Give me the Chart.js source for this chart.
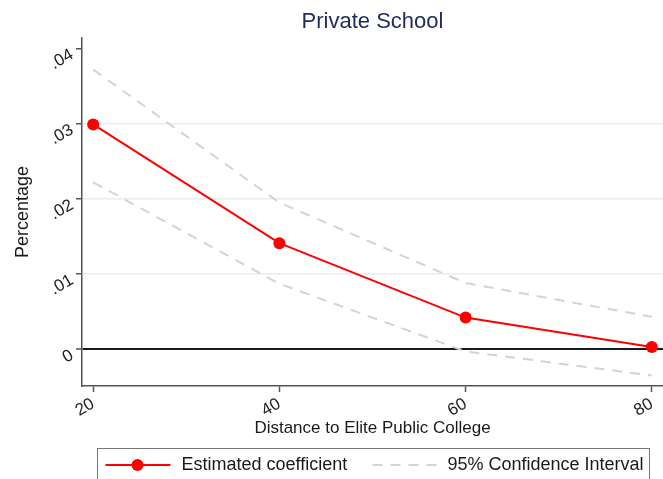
<!DOCTYPE html>
<html lang="en">
<head>
    <meta charset="UTF-8">
    <title>Private School</title>
    <script src="https://cdn.jsdelivr.net/npm/chart.js"></script>
    <style>
        html, body {
            margin: 0;
            padding: 0;
            overflow: hidden;
            background-color: #fff;
        }
        canvas {
            display: block;
        }
    </style>
</head>
<body>
    <!-- a few px wider than the window: the plot is cropped at the right edge like the original -->
    <canvas id="coefChart" width="669" height="479"></canvas>

    <script>
        // values
        const distance = [20, 40, 60, 80];
        const coefficient = [0.0299, 0.0141, 0.0042, 0.0003];
        const ciUpper = [0.0372, 0.0195, 0.0088, 0.0043];
        const ciLower = [0.0222, 0.0087, -0.0003, -0.0035];
        const yTicks = [0, 0.01, 0.02, 0.03, 0.04];
        const yTickLabels = ['0', '.01', '.02', '.03', '.04'];
        const xTicks = [20, 40, 60, 80];
        const legendLabels = ['Estimated coefficient', '95% Confidence Interval'];

        const fontFamily = '"Liberation Sans", Arial, sans-serif';
        const red = '#ff0000';
        const ciColor = '#d4d4d4';

        function toPoints(vals) {
            return distance.map((x, i) => ({ x: x, y: vals[i] }));
        }

        // Stata-like boxed legend below the axis title
        const boxLegend = {
            id: 'boxLegend',
            afterDraw(chart) {
                const ctx = chart.ctx;
                const left = 97.5, top = 448.5, width = 552;
                const cy = top + 16.5;
                ctx.save();
                ctx.strokeStyle = '#777';
                ctx.lineWidth = 1;
                ctx.strokeRect(left, top, width, 60);

                // red line with marker
                ctx.strokeStyle = red;
                ctx.lineWidth = 2;
                ctx.beginPath();
                ctx.moveTo(left + 8, cy);
                ctx.lineTo(left + 73, cy);
                ctx.stroke();
                ctx.fillStyle = red;
                ctx.beginPath();
                ctx.arc(left + 40, cy, 6, 0, Math.PI * 2);
                ctx.fill();

                // dashed grey line
                ctx.strokeStyle = ciColor;
                ctx.setLineDash([10, 8]);
                ctx.beginPath();
                ctx.moveTo(left + 275, cy);
                ctx.lineTo(left + 340, cy);
                ctx.stroke();
                ctx.setLineDash([]);

                ctx.fillStyle = '#1a1a1a';
                ctx.font = '18px ' + fontFamily;
                ctx.textBaseline = 'middle';
                ctx.textAlign = 'left';
                ctx.fillText(legendLabels[0], left + 84, cy);
                ctx.fillText(legendLabels[1], left + 350, cy);
                ctx.restore();
            }
        };

        new Chart(document.getElementById('coefChart').getContext('2d'), {
            type: 'line',
            data: {
                datasets: [
                    {
                        label: legendLabels[1],
                        data: toPoints(ciUpper),
                        borderColor: ciColor,
                        borderWidth: 2,
                        borderDash: [10, 8],
                        pointRadius: 0,
                        fill: false,
                        order: 2
                    },
                    {
                        label: legendLabels[1] + ' (lower)',
                        data: toPoints(ciLower),
                        borderColor: ciColor,
                        borderWidth: 2,
                        borderDash: [10, 8],
                        pointRadius: 0,
                        fill: false,
                        order: 2
                    },
                    {
                        label: legendLabels[0],
                        data: toPoints(coefficient),
                        borderColor: red,
                        backgroundColor: red,
                        borderWidth: 2,
                        pointRadius: 6,
                        pointBorderWidth: 0,
                        fill: false,
                        order: 1
                    }
                ]
            },
            options: {
                responsive: false,
                maintainAspectRatio: false,
                animation: false,
                layout: {
                    padding: { left: 0, right: 0, top: 0, bottom: 31 }
                },
                plugins: {
                    legend: { display: false },
                    tooltip: { enabled: false },
                    title: {
                        display: true,
                        text: 'Private School',
                        fullSize: false,
                        color: '#1e2a5e',
                        font: { family: fontFamily, size: 22, weight: 'normal' },
                        padding: { top: 9, bottom: 2.6 }
                    }
                },
                scales: {
                    x: {
                        type: 'linear',
                        min: 18.8,
                        max: 81.2,
                        afterBuildTicks: scale => {
                            scale.ticks = xTicks.map(v => ({ value: v }));
                        },
                        afterFit: scale => { scale.height = 62; },
                        ticks: {
                            minRotation: 30,
                            maxRotation: 30,
                            padding: 2,
                            color: '#222',
                            font: { family: fontFamily, size: 17 },
                            callback: v => String(v)
                        },
                        grid: {
                            drawOnChartArea: false,
                            drawTicks: true,
                            tickLength: 6,
                            tickColor: '#555',
                            tickWidth: 1.5
                        },
                        border: { display: true, color: '#555', width: 1.5 },
                        title: {
                            display: true,
                            text: 'Distance to Elite Public College',
                            color: '#1a1a1a',
                            font: { family: fontFamily, size: 17 },
                            padding: { top: 0, bottom: 9 }
                        }
                    },
                    y: {
                        type: 'linear',
                        min: -0.0049,
                        max: 0.0414,
                        afterBuildTicks: scale => {
                            scale.ticks = yTicks.map(v => ({ value: v }));
                        },
                        afterFit: scale => { scale.width = 82; },
                        ticks: {
                            minRotation: 30,
                            maxRotation: 30,
                            padding: 4,
                            labelOffset: 5,
                            color: '#222',
                            font: { family: fontFamily, size: 17 },
                            callback: (v) => yTickLabels[yTicks.indexOf(v)]
                        },
                        grid: {
                            color: c => {
                                const v = c.tick ? c.tick.value : null;
                                if (v === 0) return '#1a1a1a';
                                if (v === 0.04) return 'rgba(0,0,0,0)';
                                return '#e6eef2';
                            },
                            lineWidth: c => (c.tick && c.tick.value === 0) ? 2 : 1.5,
                            drawTicks: true,
                            tickLength: 6,
                            tickColor: '#555',
                            tickWidth: 1.5
                        },
                        border: { display: true, color: '#555', width: 1.5 },
                        title: {
                            display: true,
                            text: 'Percentage',
                            color: '#1a1a1a',
                            font: { family: fontFamily, size: 18 },
                            padding: { top: 12, bottom: 0 }
                        }
                    }
                }
            },
            plugins: [boxLegend]
        });
    </script>
</body>
</html>
